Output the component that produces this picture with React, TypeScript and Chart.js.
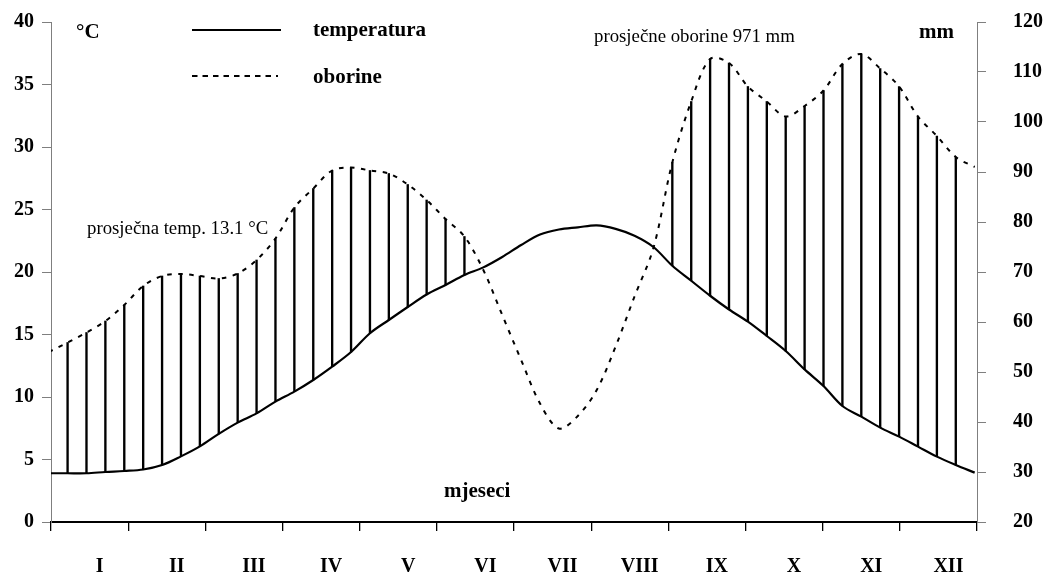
import React, { useEffect, useRef } from 'react';
import { Chart, registerables } from 'chart.js';

Chart.register(...registerables);

// Month categories (x axis)
const months = ['I', 'II', 'III', 'IV', 'V', 'VI', 'VII', 'VIII', 'IX', 'X', 'XI', 'XII'];

// Temperature (°C), read at 50 evenly spaced points through the year
const temperature = [
  3.9, 3.9, 3.9, 4.0, 4.08, 4.2, 4.56, 5.25, 6.05, 7.05,
  7.95, 8.69, 9.63, 10.43, 11.36, 12.43, 13.6, 15.1, 16.16, 17.2,
  18.2, 18.96, 19.76, 20.37, 21.2, 22.16, 23.0, 23.4, 23.57, 23.73,
  23.45, 22.9, 22.0, 20.5, 19.3, 18.1, 17.0, 16.03, 14.88, 13.68,
  12.21, 10.88, 9.28, 8.43, 7.55, 6.83, 6.03, 5.23, 4.56, 3.95,
];

// Precipitation (mm), same sampling
const precipitation = [
  54.0, 55.9, 57.9, 60.2, 63.4, 67.2, 69.2, 69.6, 69.2, 68.7,
  69.7, 72.4, 76.7, 82.9, 86.7, 90.3, 90.9, 90.3, 89.7, 87.5,
  84.4, 80.6, 77.1, 70.4, 61.4, 52.4, 43.7, 38.7, 41.2, 46.4,
  55.1, 65.1, 74.8, 91.9, 104.1, 112.6, 111.8, 107.1, 104.1, 101.1,
  103.2, 106.3, 111.6, 113.6, 110.7, 107.1, 101.1, 97.2, 93.0, 91.0,
];

// Sampling of the year in month units
const SAMPLE_START = -0.03;
const SAMPLE_STEP = 12 / 49;

// Axis ranges
const TEMP_MIN = 0, TEMP_MAX = 40, TEMP_STEP = 5;
const PREC_MIN = 20, PREC_MAX = 120, PREC_STEP = 10;

const seriesLabels = { temp: 'temperatura', prec: 'oborine' };
const texts = {
  tempUnit: '°C',
  precUnit: 'mm',
  avgTemp: 'prosječna temp. 13.1 °C',
  avgPrec: 'prosječne oborine 971 mm',
  xTitle: 'mjeseci',
};

const SERIF = '"Liberation Serif", "Times New Roman", serif';

const xAt = (i: number) => SAMPLE_START + i * SAMPLE_STEP;
// convert °C to mm position on the right axis (both axes share the same pixel span)
const tempToMm = (t: number) =>
  PREC_MIN + ((t - TEMP_MIN) / (TEMP_MAX - TEMP_MIN)) * (PREC_MAX - PREC_MIN);

const textPlugin = {
  id: 'climateTexts',
  afterDraw(chart: any) {
    const ctx = chart.ctx as CanvasRenderingContext2D;
    ctx.save();
    ctx.fillStyle = '#000';
    ctx.strokeStyle = '#000';
    ctx.textAlign = 'left';
    ctx.textBaseline = 'alphabetic';

    // legend
    ctx.lineWidth = 2.2;
    ctx.setLineDash([]);
    ctx.beginPath();
    ctx.moveTo(192, 30);
    ctx.lineTo(281, 30);
    ctx.stroke();
    ctx.lineWidth = 2;
    ctx.setLineDash([5.5, 5]);
    ctx.beginPath();
    ctx.moveTo(192, 76);
    ctx.lineTo(278, 76);
    ctx.stroke();
    ctx.setLineDash([]);

    const ds = chart.data.datasets;
    ctx.font = `bold 21px ${SERIF}`;
    ctx.fillText(ds[0].label, 313, 35.5);
    ctx.fillText(ds[1].label, 313, 83);

    ctx.font = `bold 21px ${SERIF}`;
    ctx.fillText(texts.tempUnit, 76, 37.5);
    ctx.fillText(texts.precUnit, 919, 38);
    ctx.fillText(texts.xTitle, 444, 497);

    ctx.font = `18.8px ${SERIF}`;
    ctx.fillText(texts.avgTemp, 87, 233.5);
    ctx.fillText(texts.avgPrec, 594, 42);
    ctx.restore();
  },
};

export default function App() {
  const canvasRef = useRef<HTMLCanvasElement | null>(null);

  useEffect(() => {
    const canvas = canvasRef.current;
    if (!canvas) return;

    const tempData = temperature.map((t, i) => ({ x: xAt(i), y: t }));
    const precData = precipitation.map((p, i) => ({ x: xAt(i), y: p }));
    const hatchData: any[] = [];
    for (let i = 1; i < temperature.length - 1; i++) {
      const lo = tempToMm(temperature[i]);
      const hi = precipitation[i];
      if (hi > lo) hatchData.push({ x: xAt(i), y: [lo, hi] });
    }

    const axisFont = { family: SERIF, size: 20, weight: 'bold' as const };

    const chart = new Chart(canvas, {
      data: {
        datasets: [
          {
            type: 'line',
            label: seriesLabels.temp,
            data: tempData,
            xAxisID: 'x',
            yAxisID: 'y',
            borderColor: '#000',
            borderWidth: 2.2,
            pointRadius: 0,
            tension: 0.33,
            fill: false,
          },
          {
            type: 'line',
            label: seriesLabels.prec,
            data: precData,
            xAxisID: 'x',
            yAxisID: 'y2',
            borderColor: '#000',
            borderWidth: 2,
            borderDash: [4.5, 6.5],
            pointRadius: 0,
            tension: 0.33,
            fill: false,
          },
          {
            type: 'bar',
            label: 'hatch',
            data: hatchData,
            xAxisID: 'x',
            yAxisID: 'y2',
            backgroundColor: '#000',
            borderWidth: 0,
            barThickness: 1.7,
          } as any,
        ],
      },
      options: {
        responsive: false,
        animation: false,
        events: [],
        layout: { padding: { top: 22, left: 0, right: 0, bottom: 0 } },
        plugins: {
          legend: { display: false },
          tooltip: { enabled: false },
          title: { display: false },
        },
        scales: {
          x: {
            type: 'linear',
            min: 0,
            max: 12,
            offset: false,
            grid: { offset: false },
            display: false,
          },
          xm: {
            type: 'category',
            labels: months,
            position: 'bottom',
            offset: true,
            grid: {
              offset: true,
              drawOnChartArea: false,
              drawTicks: true,
              tickLength: 9,
              color: '#000',
              lineWidth: 1.3,
            },
            border: { display: true, color: '#000', width: 2 },
            ticks: {
              labelOffset: 10,
              padding: 24,
              autoSkip: false,
              maxRotation: 0,
              font: axisFont,
              color: '#000',
            },
            afterFit: (s: any) => {
              s.height = 55;
              s.paddingLeft = 0;
              s.paddingRight = 0;
            },
          } as any,
          y: {
            type: 'linear',
            position: 'left',
            min: TEMP_MIN,
            max: TEMP_MAX,
            ticks: { stepSize: TEMP_STEP, font: axisFont, color: '#000', padding: 8 },
            grid: { drawOnChartArea: false, tickLength: 9, color: '#7f7f7f', lineWidth: 1 },
            border: { display: true, color: '#7f7f7f', width: 1 },
            afterFit: (s: any) => {
              s.width = 51;
              s.paddingTop = 0;
              s.paddingBottom = 0;
            },
          },
          y2: {
            type: 'linear',
            position: 'right',
            min: PREC_MIN,
            max: PREC_MAX,
            ticks: { stepSize: PREC_STEP, font: axisFont, color: '#000', padding: 27 },
            grid: { drawOnChartArea: false, tickLength: 9, color: '#7f7f7f', lineWidth: 1 },
            border: { display: true, color: '#7f7f7f', width: 1 },
            afterFit: (s: any) => {
              s.width = 76;
              s.paddingTop = 0;
              s.paddingBottom = 0;
            },
          },
        },
      } as any,
      plugins: [textPlugin],
    });

    return () => {
      chart.destroy();
    };
  }, []);

  return (
    <div
      style={{
        position: 'absolute',
        left: 0,
        top: 0,
        width: 1053,
        height: 577,
        background: '#fff',
      }}
    >
      <canvas ref={canvasRef} width={1053} height={577} style={{ display: 'block' }} />
    </div>
  );
}
